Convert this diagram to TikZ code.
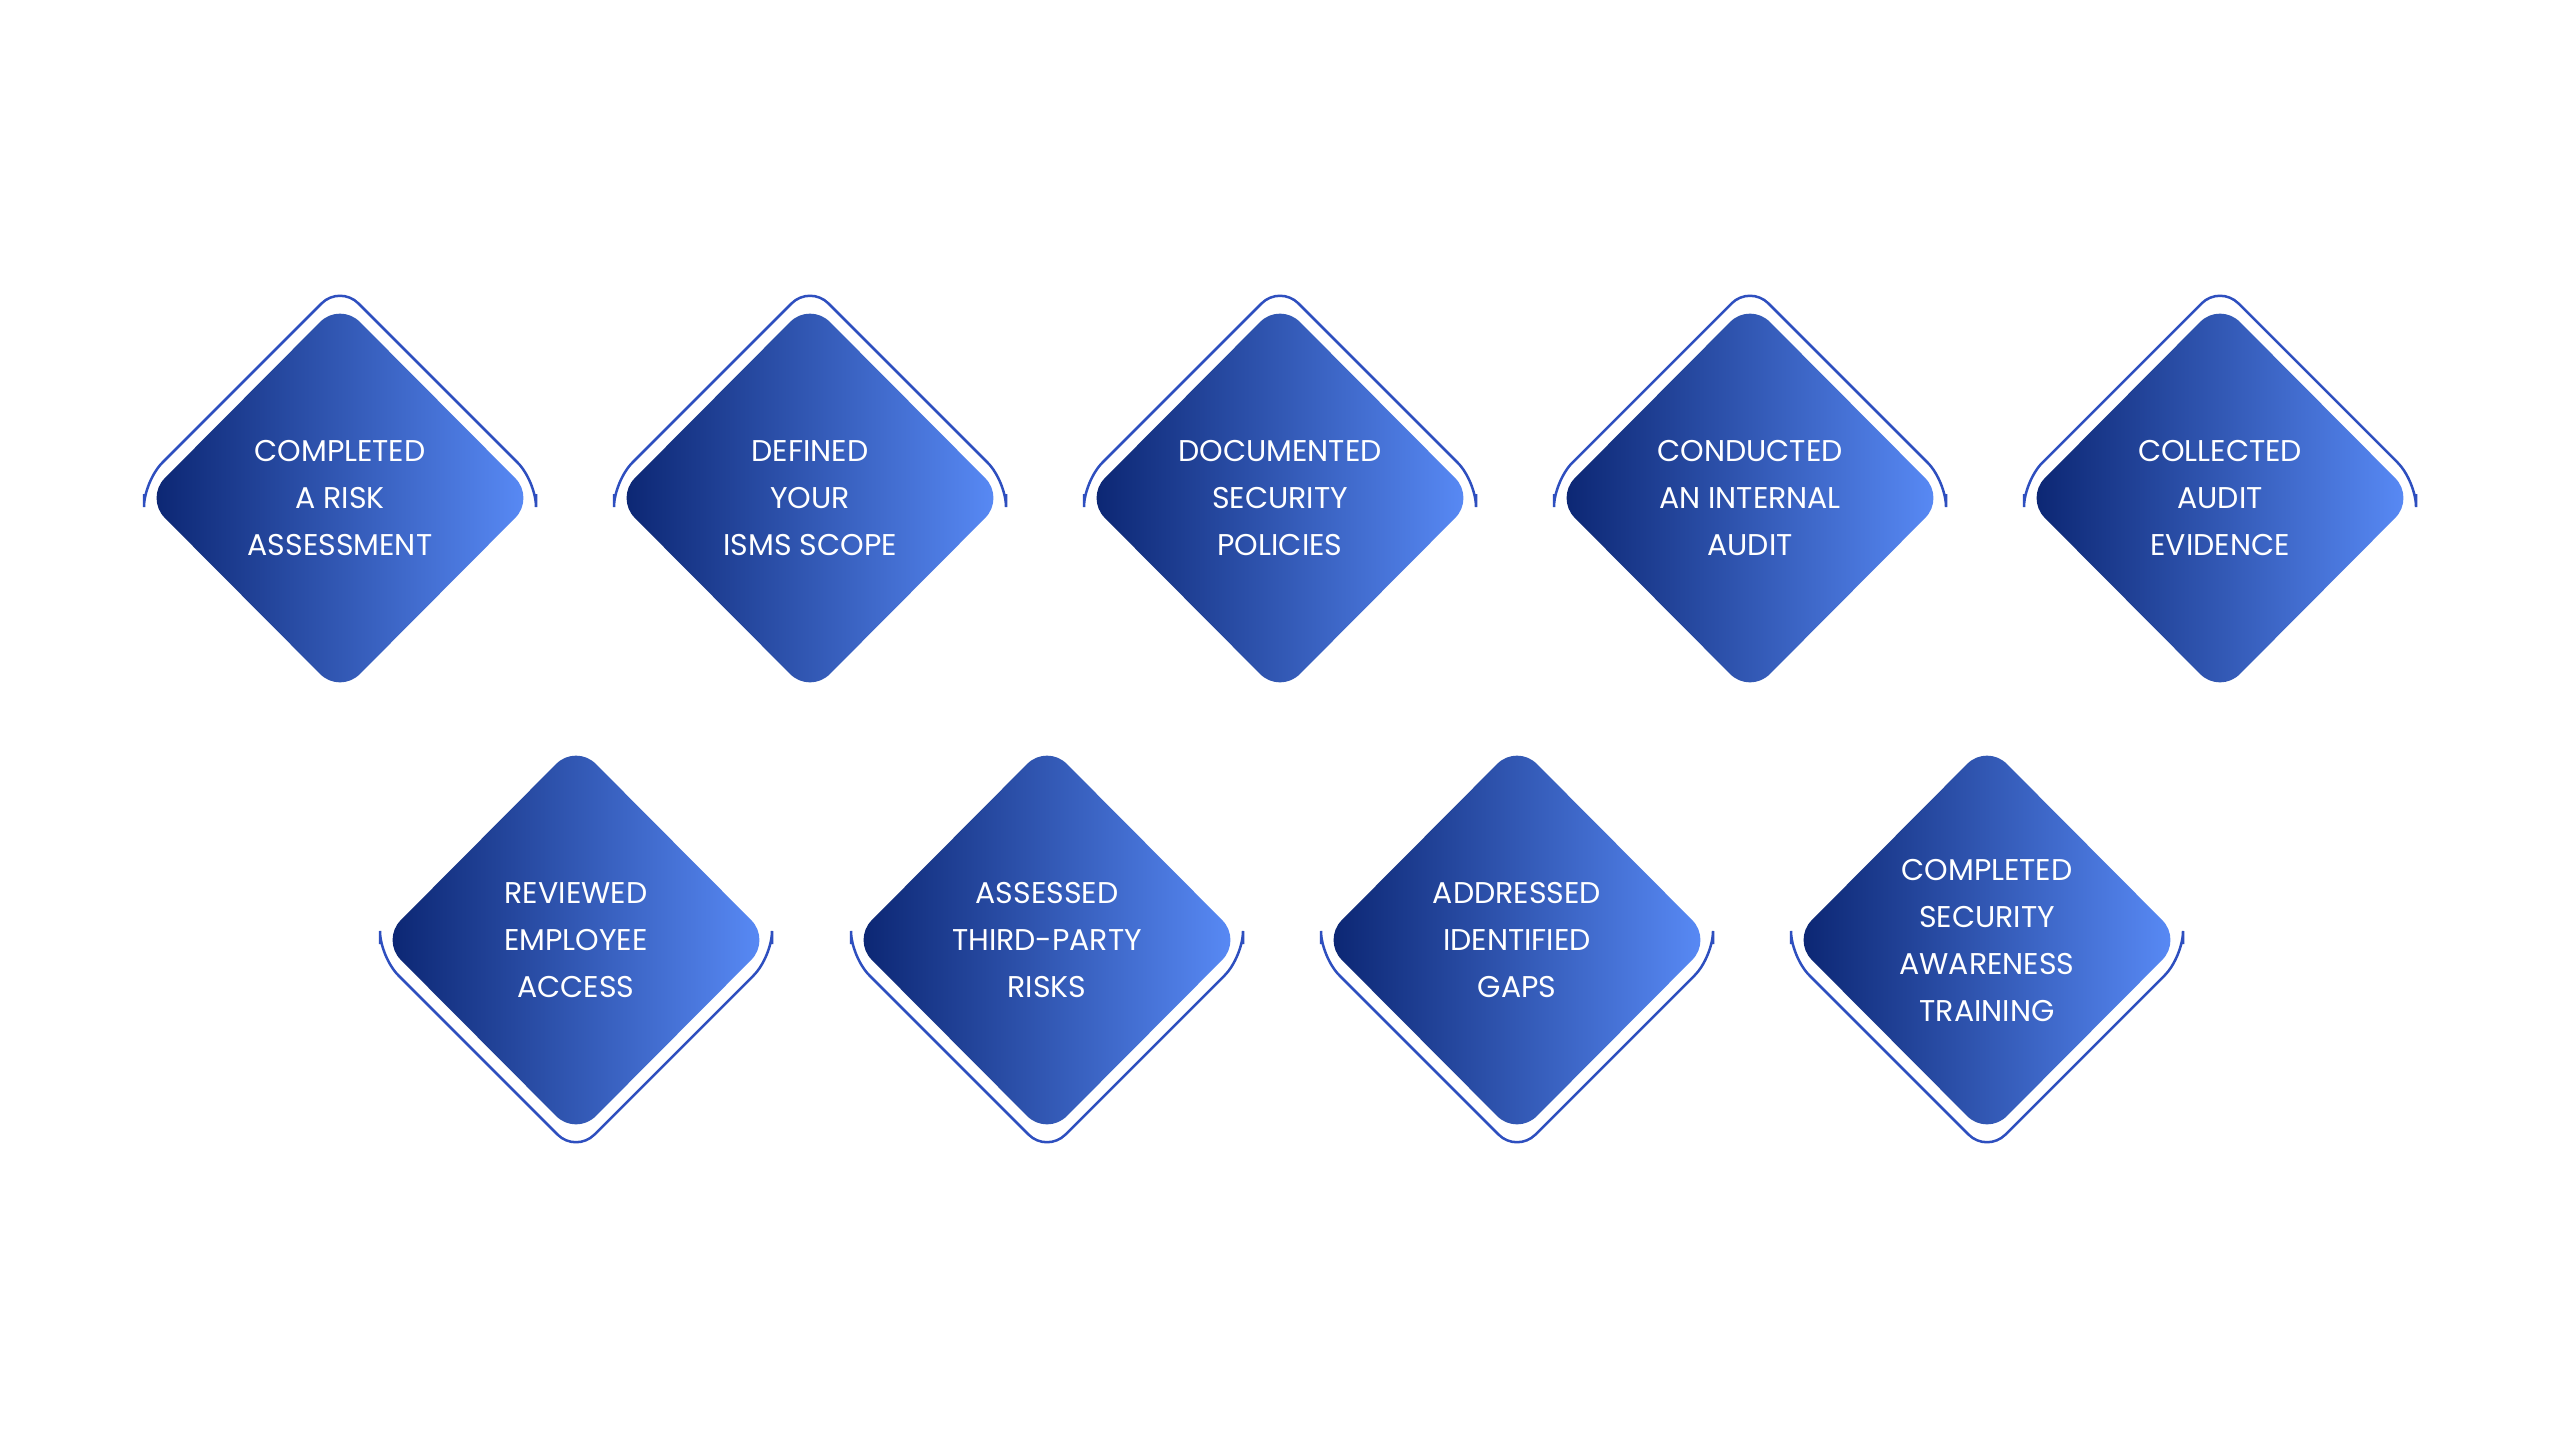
\documentclass[tikz,border=0pt]{standalone}
\usepackage{fontspec}
\setmainfont{Poppins}
\definecolor{dk}{HTML}{0A2470}
\definecolor{lt}{HTML}{5A8CF8}
\definecolor{ol}{HTML}{2E4FBF}
\begin{document}
\begin{tikzpicture}[x=1pt,y=-1pt,
  lbl/.style={text=white,font=\fontsize{30}{47}\selectfont,align=center,inner sep=0pt},
  dia/.style={left color=dk,right color=lt,rounded corners=28pt},
  outl/.style={draw=ol,line width=2.5pt,rounded corners=26pt}]
\useasboundingbox[fill=white] (0,0) rectangle (2560,1440);
\newcommand{\diam}[5]{% name,x,y,dir(+1 top,-1 bottom),text
  \shade[dia] (#2-195,#3) -- (#2,#3-196) -- (#2+195,#3) -- (#2,#3+196) -- cycle;
  \draw[outl] (#2-196,#3-#4*4) -- (#2-196,#3-#4*17) -- (#2,#3-#4*213) -- (#2+196,#3-#4*17) -- (#2+196,#3-#4*4);
  \node[lbl] (#1) at (#2,#3) {#5};}
\diam{a}{340}{498}{1}{COMPLETED\\A RISK\\ASSESSMENT}
\diam{b}{810}{498}{1}{DEFINED\\YOUR\\ISMS SCOPE}
\diam{c}{1280}{498}{1}{DOCUMENTED\\SECURITY\\POLICIES}
\diam{d}{1750}{498}{1}{CONDUCTED\\AN INTERNAL\\AUDIT}
\diam{e}{2220}{498}{1}{COLLECTED\\AUDIT\\EVIDENCE}
\diam{f}{576}{940}{-1}{REVIEWED\\EMPLOYEE\\ ACCESS}
\diam{g}{1047}{940}{-1}{ASSESSED\\THIRD-PARTY\\RISKS}
\diam{h}{1517}{940}{-1}{ADDRESSED\\IDENTIFIED\\GAPS}
\diam{i}{1987}{940}{-1}{COMPLETED\\SECURITY\\AWARENESS\\TRAINING}
\end{tikzpicture}
\end{document}
